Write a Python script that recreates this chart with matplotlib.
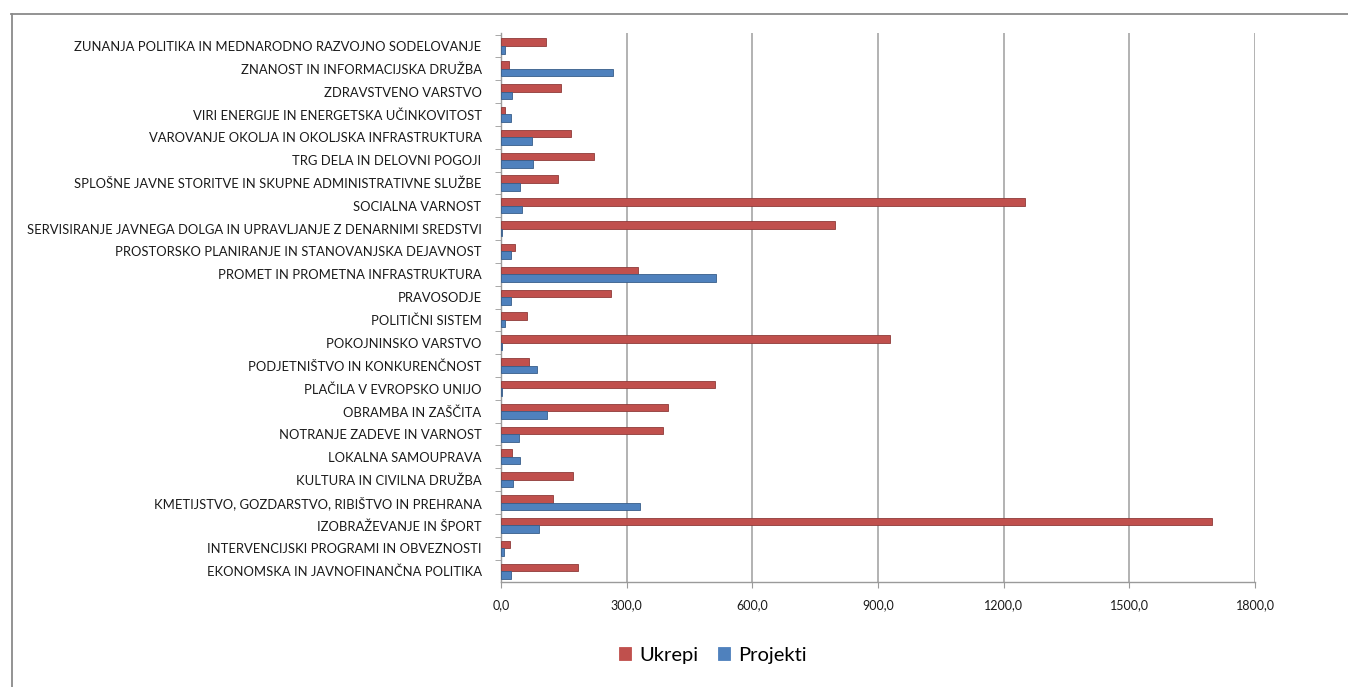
import matplotlib
matplotlib.use("Agg")
import matplotlib.pyplot as plt
import numpy as np
from matplotlib.lines import Line2D
from matplotlib.ticker import FuncFormatter, FixedLocator

# Categories listed top to bottom as in the reference
categories = [
    "ZUNANJA POLITIKA IN MEDNARODNO RAZVOJNO SODELOVANJE",
    "ZNANOST IN INFORMACIJSKA DRUŽBA",
    "ZDRAVSTVENO VARSTVO",
    "VIRI ENERGIJE IN ENERGETSKA UČINKOVITOST",
    "VAROVANJE OKOLJA IN OKOLJSKA INFRASTRUKTURA",
    "TRG DELA IN DELOVNI POGOJI",
    "SPLOŠNE JAVNE STORITVE IN SKUPNE ADMINISTRATIVNE SLUŽBE",
    "SOCIALNA VARNOST",
    "SERVISIRANJE JAVNEGA DOLGA IN UPRAVLJANJE Z DENARNIMI SREDSTVI",
    "PROSTORSKO PLANIRANJE IN STANOVANJSKA DEJAVNOST",
    "PROMET IN PROMETNA INFRASTRUKTURA",
    "PRAVOSODJE",
    "POLITIČNI SISTEM",
    "POKOJNINSKO VARSTVO",
    "PODJETNIŠTVO IN KONKURENČNOST",
    "PLAČILA V EVROPSKO UNIJO",
    "OBRAMBA IN ZAŠČITA",
    "NOTRANJE ZADEVE IN VARNOST",
    "LOKALNA SAMOUPRAVA",
    "KULTURA IN CIVILNA DRUŽBA",
    "KMETIJSTVO, GOZDARSTVO, RIBIŠTVO IN PREHRANA",
    "IZOBRAŽEVANJE IN ŠPORT",
    "INTERVENCIJSKI PROGRAMI IN OBVEZNOSTI",
    "EKONOMSKA IN JAVNOFINANČNA POLITIKA",
]
ukrepi = [107, 20, 143, 10, 167, 221, 135, 1252, 797, 33, 327, 263, 63, 929,
          66, 510, 398, 387, 26, 172, 125, 1698, 21, 183]
projekti = [10, 268, 26, 24, 75, 76, 46, 51, 3, 24, 513, 24, 10, 3,
            86, 2, 111, 42, 45, 29, 333, 90, 6, 25]
series_names = ["Ukrepi", "Projekti"]
xticks = [0, 300, 600, 900, 1200, 1500, 1800]

plt.rcParams['font.family'] = ['Lato', 'DejaVu Sans']

W, H = 1348, 687
fig = plt.figure(figsize=(W / 100, H / 100), dpi=100)
fig.patch.set_facecolor("white")
# outer frame: top and left edges
fig.lines.append(Line2D([11/W, 1.0], [1 - 13.5/H, 1 - 13.5/H], transform=fig.transFigure,
                        color="#8a8a8a", linewidth=1.3))
fig.lines.append(Line2D([11.5/W, 11.5/W], [0.0, 1 - 13.5/H], transform=fig.transFigure,
                        color="#8a8a8a", linewidth=1.3))

ax = fig.add_axes([501/W, 105/H, 754/W, 549/H])

n = len(categories)
y = np.arange(n)[::-1]
h = 0.33
red = "#C0504D"
blue = "#4F81BD"
ax.barh(y + h/2, ukrepi, height=h, color=red, edgecolor="#8E3B39", linewidth=0.6,
        label=series_names[0], zorder=3)
ax.barh(y - h/2, projekti, height=h, color=blue, edgecolor="#385D8A", linewidth=0.6,
        label=series_names[1], zorder=3)

ax.set_xlim(0, 1800)
ax.set_ylim(-0.48, n - 1 + 0.57)
ax.set_xticks(xticks)
ax.xaxis.set_major_formatter(FuncFormatter(lambda v, p: f"{v:.1f}".replace(".", ",")))
ax.set_yticks(y)
ax.set_yticklabels(categories, fontsize=9.4, color="#1a1a1a")
ax.yaxis.set_minor_locator(FixedLocator(np.arange(-0.5, n, 1.0)))
ax.tick_params(axis="y", which="major", length=0, pad=14)
ax.tick_params(axis="y", which="minor", length=4, color="#9a9a9a")
ax.tick_params(axis="x", length=4, color="#9a9a9a", labelsize=9, labelcolor="#1a1a1a", pad=8)

ax.grid(axis="x", color="#a6a6a6", linewidth=1.2, zorder=0)
for s in ["top", "right"]:
    ax.spines[s].set_visible(False)
for s in ["left", "bottom"]:
    ax.spines[s].set_color("#9a9a9a")
    ax.spines[s].set_linewidth(1.0)

leg = fig.legend(loc="center", bbox_to_anchor=(713/W, 1 - 655/H), ncol=2, frameon=False,
                 fontsize=14.5, handlelength=0.6, handleheight=0.6, handletextpad=0.4,
                 columnspacing=1.0)
for p in leg.get_patches():
    p.set_edgecolor(p.get_facecolor())

fig.savefig("out.png", dpi=100, facecolor="white")
